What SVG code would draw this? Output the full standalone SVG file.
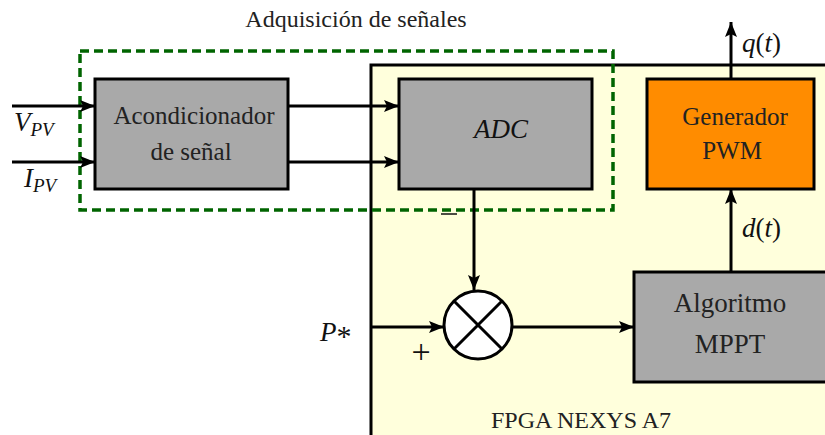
<svg xmlns="http://www.w3.org/2000/svg" width="825" height="435" viewBox="0 0 825 435">
<defs>
<marker id="arr" viewBox="0 0 15 12" refX="15" refY="6" markerWidth="15" markerHeight="12" markerUnits="userSpaceOnUse" orient="auto">
<path d="M0,0 L15,6 L0,12 L3,6 Z" fill="#000"/>
</marker>
</defs>
<rect width="825" height="435" fill="#fff"/>
<g id="fpga">
<rect x="371" y="65" width="470" height="390" fill="#ffffdc" stroke="#000" stroke-width="3"/>
<text x="581" y="428" font-size="24" font-family="Liberation Serif, serif" fill="#222" text-anchor="middle">FPGA NEXYS A7</text>
</g>
<g id="adquisicion">
<rect x="80" y="51" width="533" height="159" fill="none" stroke="#006400" stroke-width="3.5" stroke-dasharray="9 5"/>
<text x="356" y="27" font-size="24" font-family="Liberation Serif, serif" fill="#222" text-anchor="middle">Adquisición de señales</text>
</g>
<g id="acondicionador" font-family="Liberation Serif, serif" fill="#222" text-anchor="middle">
<rect x="95" y="79" width="193" height="110" fill="#a9a9a9" stroke="#000" stroke-width="3"/>
<text x="194" y="124" font-size="25">Acondicionador</text>
<text x="191" y="160" font-size="25">de señal</text>
</g>
<g id="adc">
<rect x="399" y="79" width="193" height="110" fill="#a9a9a9" stroke="#000" stroke-width="3"/>
<text x="501" y="138" font-size="27" font-family="Liberation Serif, serif" font-style="italic" fill="#111" text-anchor="middle">ADC</text>
</g>
<g id="pwm" font-family="Liberation Serif, serif" fill="#222" text-anchor="middle">
<rect x="647" y="79" width="167" height="110" fill="#ff8c00" stroke="#000" stroke-width="3"/>
<text x="735" y="125" font-size="25">Generador</text>
<text x="732" y="159" font-size="25">PWM</text>
</g>
<g id="mppt" font-family="Liberation Serif, serif" fill="#222" text-anchor="middle">
<rect x="634" y="272" width="200" height="110" fill="#a9a9a9" stroke="#000" stroke-width="3"/>
<text x="730" y="312" font-size="27">Algoritmo</text>
<text x="730" y="353" font-size="27">MPPT</text>
</g>
<g id="sumador">
<circle cx="478" cy="325" r="34" fill="#fff" stroke="#000" stroke-width="3"/>
<path d="M454,301 L502,349 M502,301 L454,349" stroke="#000" stroke-width="3" fill="none"/>
</g>
<g id="connectors" stroke="#000" stroke-width="3" fill="none">
<line x1="12" y1="106" x2="95" y2="106" marker-end="url(#arr)"/>
<line x1="12" y1="162" x2="95" y2="162" marker-end="url(#arr)"/>
<line x1="288" y1="106" x2="399" y2="106" marker-end="url(#arr)"/>
<line x1="288" y1="162" x2="399" y2="162" marker-end="url(#arr)"/>
<line x1="474" y1="189" x2="474" y2="290" marker-end="url(#arr)"/>
<line x1="371" y1="327" x2="444" y2="327" marker-end="url(#arr)"/>
<line x1="512" y1="327" x2="634" y2="327" marker-end="url(#arr)"/>
<line x1="731" y1="272" x2="731" y2="189" marker-end="url(#arr)"/>
<line x1="731" y1="79" x2="731" y2="22" marker-end="url(#arr)"/>
</g>
<g id="labels" font-family="Liberation Serif, serif" fill="#111">
<text x="14" y="131" font-size="27" font-style="italic">V<tspan font-size="19" dy="5">PV</tspan></text>
<text x="24" y="187" font-size="27" font-style="italic">I<tspan font-size="19" dy="5">PV</tspan></text>
<text x="742" y="52" font-size="27" font-style="italic">q<tspan font-style="normal">(</tspan>t<tspan font-style="normal">)</tspan></text>
<text x="742" y="237" font-size="27" font-style="italic">d<tspan font-style="normal">(</tspan>t<tspan font-style="normal">)</tspan></text>
<text x="320" y="341" font-size="27" font-style="italic">P<tspan font-style="normal" font-size="30" dy="5">*</tspan></text>
<text x="421" y="363" font-size="34" text-anchor="middle">+</text>
<line x1="441" y1="214" x2="457" y2="214" stroke="#111" stroke-width="1.5"/>
</g>
</svg>
